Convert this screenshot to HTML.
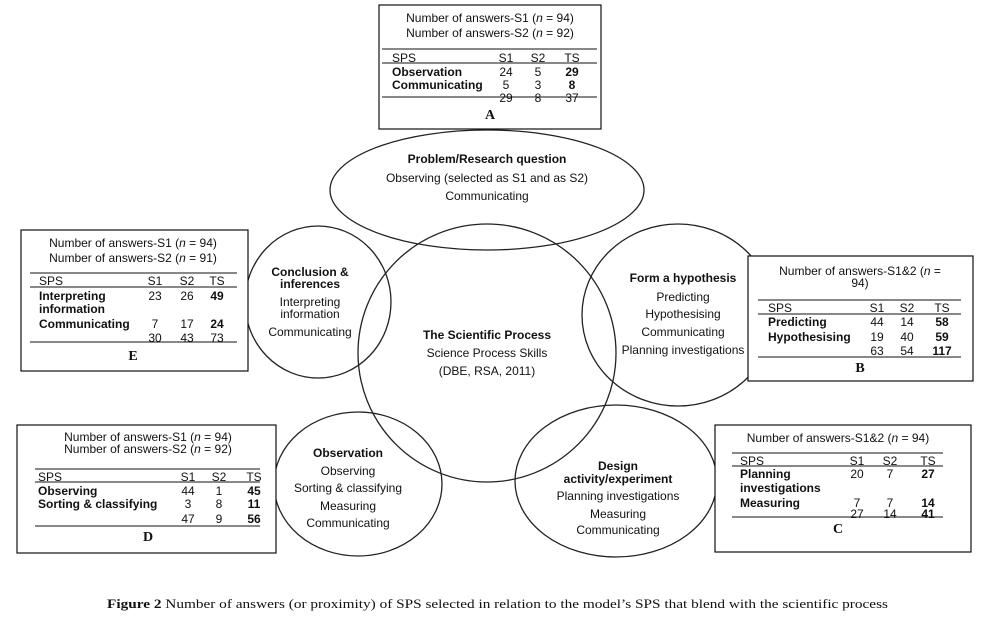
<!DOCTYPE html>
<html><head><meta charset="utf-8"><style>
html,body{margin:0;padding:0;background:#fff;}
svg{display:block;font-family:"Liberation Sans",Arial,sans-serif;font-size:12px;fill:#111;}
.b{font-weight:bold;}
.c{text-anchor:middle;}
.r{text-anchor:middle;}
</style></head><body>
<svg width="984" height="634" viewBox="0 0 984 634" xmlns="http://www.w3.org/2000/svg">
<g fill="none" stroke="#222" stroke-width="1.3">
<ellipse cx="487" cy="190" rx="157" ry="60"/>
<ellipse cx="318" cy="302" rx="73" ry="76"/>
<circle cx="487" cy="353" r="129"/>
<ellipse cx="678" cy="315" rx="96" ry="91"/>
<ellipse cx="358" cy="484" rx="84" ry="72"/>
<ellipse cx="616" cy="481" rx="101" ry="76"/>
</g>
<g fill="#fff" stroke="#111" stroke-width="1.2">
<rect x="379" y="5" width="222" height="124"/>
<rect x="21" y="230" width="227" height="141"/>
<rect x="748" y="256" width="225" height="125"/>
<rect x="17" y="425" width="259" height="128"/>
<rect x="715" y="425" width="256" height="127"/>
</g>
<g stroke="#111" stroke-width="1">
<line x1="382" y1="49" x2="597" y2="49"/><line x1="382" y1="63" x2="597" y2="63"/><line x1="382" y1="97" x2="597" y2="97"/>
<line x1="30" y1="273" x2="237" y2="273"/><line x1="30" y1="287" x2="237" y2="287"/><line x1="30" y1="342" x2="237" y2="342"/>
<line x1="758" y1="300" x2="961" y2="300"/><line x1="758" y1="314" x2="961" y2="314"/><line x1="758" y1="357" x2="961" y2="357"/>
<line x1="35" y1="469" x2="260" y2="469"/><line x1="35" y1="482" x2="260" y2="482"/><line x1="35" y1="526" x2="260" y2="526"/>
<line x1="732" y1="453" x2="943" y2="453"/><line x1="732" y1="466" x2="943" y2="466"/><line x1="732" y1="517" x2="943" y2="517"/>
</g>
<!-- A -->
<text x="490" y="22" class="c">Number of answers-S1 (<tspan font-style="italic">n</tspan> = 94)</text>
<text x="490" y="37" class="c">Number of answers-S2 (<tspan font-style="italic">n</tspan> = 92)</text>
<text x="392" y="62">SPS</text><text x="506" y="62" class="c">S1</text><text x="538" y="62" class="c">S2</text><text x="572" y="62" class="c">TS</text>
<text x="392" y="76" class="b">Observation</text><text x="506" y="76" class="c">24</text><text x="538" y="76" class="c">5</text><text x="572" y="76" class="c b">29</text>
<text x="392" y="89" class="b">Communicating</text><text x="506" y="89" class="c">5</text><text x="538" y="89" class="c">3</text><text x="572" y="89" class="c b">8</text>
<text x="506" y="102" class="c">29</text><text x="538" y="102" class="c">8</text><text x="572" y="102" class="c">37</text>
<text x="490" y="119" class="c b" font-family="Liberation Serif,serif" font-size="14">A</text>
<!-- E -->
<text x="133" y="247" class="c">Number of answers-S1 (<tspan font-style="italic">n</tspan> = 94)</text>
<text x="133" y="262" class="c">Number of answers-S2 (<tspan font-style="italic">n</tspan> = 91)</text>
<text x="39" y="285">SPS</text><text x="155" y="285" class="c">S1</text><text x="187" y="285" class="c">S2</text><text x="217" y="285" class="c">TS</text>
<text x="39" y="300" class="b">Interpreting</text><text x="155" y="300" class="c">23</text><text x="187" y="300" class="c">26</text><text x="217" y="300" class="c b">49</text>
<text x="39" y="313" class="b">information</text>
<text x="39" y="328" class="b">Communicating</text><text x="155" y="328" class="c">7</text><text x="187" y="328" class="c">17</text><text x="217" y="328" class="c b">24</text>
<text x="155" y="342" class="c">30</text><text x="187" y="342" class="c">43</text><text x="217" y="342" class="c">73</text>
<text x="133" y="360" class="c b" font-family="Liberation Serif,serif" font-size="14">E</text>
<!-- B -->
<text x="860" y="275" class="c">Number of answers-S1&amp;2 (<tspan font-style="italic">n</tspan> =</text>
<text x="860" y="287" class="c">94)</text>
<text x="768" y="312">SPS</text><text x="877" y="312" class="c">S1</text><text x="907" y="312" class="c">S2</text><text x="942" y="312" class="c">TS</text>
<text x="768" y="326" class="b">Predicting</text><text x="877" y="326" class="c">44</text><text x="907" y="326" class="c">14</text><text x="942" y="326" class="c b">58</text>
<text x="768" y="341" class="b">Hypothesising</text><text x="877" y="341" class="c">19</text><text x="907" y="341" class="c">40</text><text x="942" y="341" class="c b">59</text>
<text x="877" y="355" class="c">63</text><text x="907" y="355" class="c">54</text><text x="942" y="355" class="c b">117</text>
<text x="860" y="372" class="c b" font-family="Liberation Serif,serif" font-size="14">B</text>
<!-- D -->
<text x="148" y="441" class="c">Number of answers-S1 (<tspan font-style="italic">n</tspan> = 94)</text>
<text x="148" y="453" class="c">Number of answers-S2 (<tspan font-style="italic">n</tspan> = 92)</text>
<text x="38" y="481">SPS</text><text x="188" y="481" class="c">S1</text><text x="219" y="481" class="c">S2</text><text x="254" y="481" class="c">TS</text>
<text x="38" y="495" class="b">Observing</text><text x="188" y="495" class="c">44</text><text x="219" y="495" class="c">1</text><text x="254" y="495" class="c b">45</text>
<text x="38" y="508" class="b">Sorting &amp; classifying</text><text x="188" y="508" class="c">3</text><text x="219" y="508" class="c">8</text><text x="254" y="508" class="c b">11</text>
<text x="188" y="523" class="c">47</text><text x="219" y="523" class="c">9</text><text x="254" y="523" class="c b">56</text>
<text x="148" y="541" class="c b" font-family="Liberation Serif,serif" font-size="14">D</text>
<!-- C -->
<text x="838" y="442" class="c">Number of answers-S1&amp;2 (<tspan font-style="italic">n</tspan> = 94)</text>
<text x="740" y="465">SPS</text><text x="857" y="465" class="c">S1</text><text x="890" y="465" class="c">S2</text><text x="928" y="465" class="c">TS</text>
<text x="740" y="478" class="b">Planning</text><text x="857" y="478" class="c">20</text><text x="890" y="478" class="c">7</text><text x="928" y="478" class="c b">27</text>
<text x="740" y="492" class="b">investigations</text>
<text x="740" y="507" class="b">Measuring</text><text x="857" y="507" class="c">7</text><text x="890" y="507" class="c">7</text><text x="928" y="507" class="c b">14</text>
<text x="857" y="518" class="c">27</text><text x="890" y="518" class="c">14</text><text x="928" y="518" class="c b">41</text>
<text x="838" y="533" class="c b" font-family="Liberation Serif,serif" font-size="14">C</text>
<!-- circle texts -->
<text x="487" y="163" class="c b">Problem/Research question</text>
<text x="487" y="182" class="c">Observing (selected as S1 and as S2)</text>
<text x="487" y="200" class="c">Communicating</text>
<text x="310" y="276" class="c b">Conclusion &amp;</text>
<text x="310" y="288" class="c b">inferences</text>
<text x="310" y="306" class="c">Interpreting</text>
<text x="310" y="318" class="c">information</text>
<text x="310" y="336" class="c">Communicating</text>
<text x="487" y="339" class="c b">The Scientific Process</text>
<text x="487" y="357" class="c">Science Process Skills</text>
<text x="487" y="375" class="c">(DBE, RSA, 2011)</text>
<text x="683" y="282" class="c b">Form a hypothesis</text>
<text x="683" y="301" class="c">Predicting</text>
<text x="683" y="318" class="c">Hypothesising</text>
<text x="683" y="336" class="c">Communicating</text>
<text x="683" y="354" class="c">Planning investigations</text>
<text x="348" y="457" class="c b">Observation</text>
<text x="348" y="475" class="c">Observing</text>
<text x="348" y="492" class="c">Sorting &amp; classifying</text>
<text x="348" y="510" class="c">Measuring</text>
<text x="348" y="527" class="c">Communicating</text>
<text x="618" y="470" class="c b">Design</text>
<text x="618" y="483" class="c b">activity/experiment</text>
<text x="618" y="500" class="c">Planning investigations</text>
<text x="618" y="518" class="c">Measuring</text>
<text x="618" y="534" class="c">Communicating</text>
<text x="107" y="608" font-family="Liberation Serif,serif" font-size="13" textLength="781" lengthAdjust="spacingAndGlyphs"><tspan font-weight="bold">Figure 2</tspan> Number of answers (or proximity) of SPS selected in relation to the model’s SPS that blend with the scientific process</text>
</svg>
</body></html>
